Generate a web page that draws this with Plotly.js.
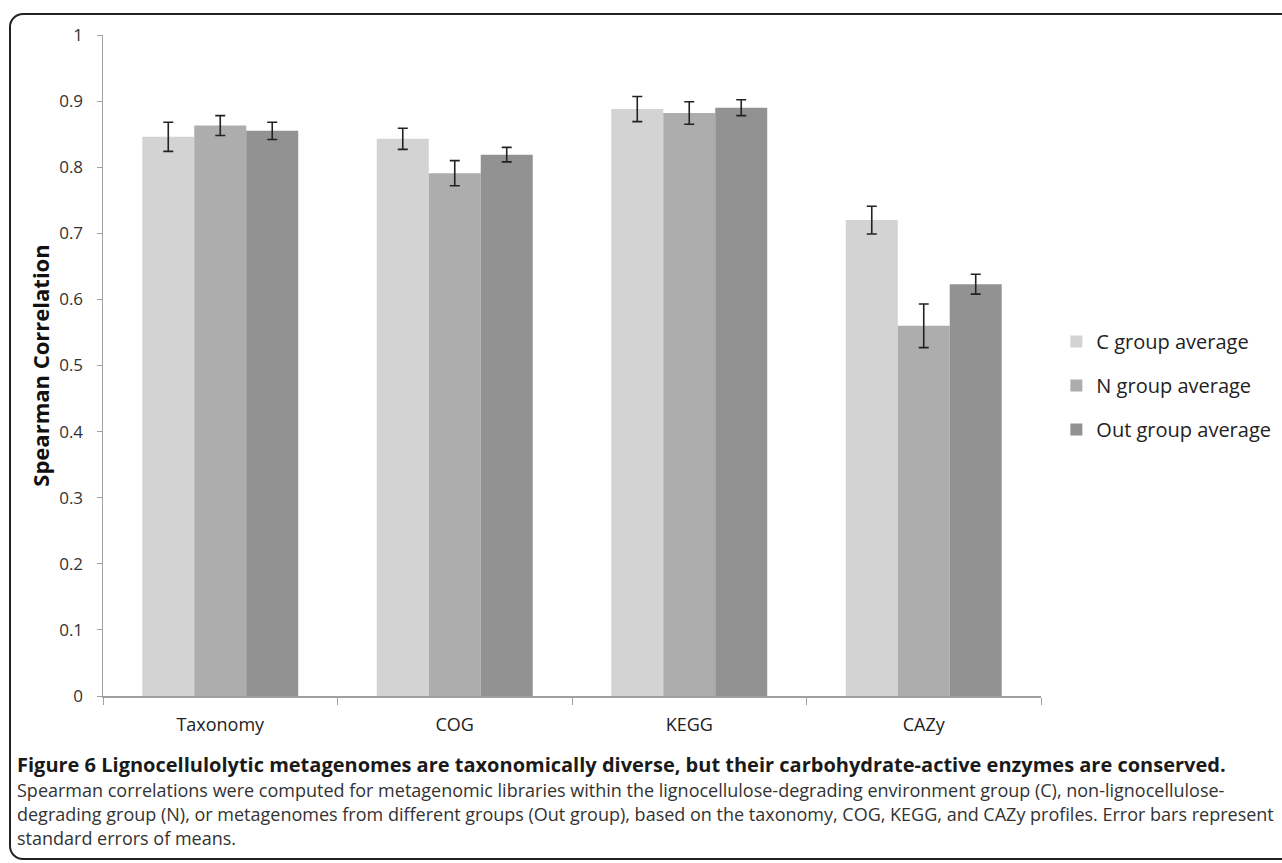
<!DOCTYPE html>
<html>
<head>
<meta charset="utf-8">
<script src="https://cdn.plot.ly/plotly-3.0.1.min.js"></script>
<style>
  html, body { margin: 0; padding: 0; background: #fff; }
  #chart { width: 1282px; height: 863px; }
  #frame { position: absolute; left: 9px; top: 13px; width: 1290px; height: 843px;
           border: 2px solid #222; border-radius: 14px; pointer-events: none; }
</style>
</head>
<body>
<div id="chart"></div>
<div id="frame"></div>
<script>
const categories = ["Taxonomy", "COG", "KEGG", "CAZy"];
const seriesNames = ["C group average", "N group average", "Out group average"];
const cValues = [0.846, 0.843, 0.888, 0.720];
const cErrors = [0.022, 0.016, 0.019, 0.021];
const nValues = [0.863, 0.791, 0.882, 0.560];
const nErrors = [0.015, 0.019, 0.017, 0.033];
const outValues = [0.855, 0.819, 0.890, 0.623];
const outErrors = [0.013, 0.011, 0.012, 0.015];
const barColors = ["#d3d3d3", "#adadad", "#929292"];

const values = [cValues, nValues, outValues];
const errors = [cErrors, nErrors, outErrors];

const traces = seriesNames.map((name, i) => ({
  type: "bar",
  name: name,
  x: categories,
  y: values[i],
  legendgroup: "g" + i,
  marker: { color: barColors[i], line: { width: 0 } },
  error_y: { type: "data", array: errors[i], visible: true, color: "#222", thickness: 1.6, width: 5 }
}));

const font = "'Open Sans', 'DejaVu Sans', sans-serif";
const capFont = "'Open Sans', 'DejaVu Sans', sans-serif";

function capLine(text, ypx, bold, size, color) {
  return {
    xref: "paper", yref: "paper",
    x: (15 - 103) / 938, y: (696 - ypx) / 661,
    xanchor: "left", yanchor: "middle",
    showarrow: false, align: "left",
    text: bold ? "<b>" + text + "</b>" : text,
    font: { family: capFont, size: size, color: color }
  };
}

const layout = {
  width: 1282, height: 863,
  margin: { l: 103, r: 241, t: 35, b: 167, autoexpand: false },
  paper_bgcolor: "#fff", plot_bgcolor: "#fff",
  barmode: "group", bargap: 0.335, bargroupgap: 0,
  showlegend: true,
  legend: {
    xref: "container", yref: "container",
    x: 0.824, y: 0.627, xanchor: "left", yanchor: "top",
    font: { family: font, size: 20, color: "#222" },
    traceorder: "grouped", tracegroupgap: 15,
    itemwidth: 30
  },
  xaxis: {
    type: "category",
    showline: true, linecolor: "#a0a0a0", linewidth: 1.5,
    ticks: "outside", tickson: "boundaries", ticklen: 7, tickcolor: "#a0a0a0",
    ticklabelstandoff: 12,
    tickfont: { family: font, size: 18, color: "#222" },
    showgrid: false, zeroline: false
  },
  yaxis: {
    range: [0, 1], dtick: 0.1, tick0: 0,
    showline: true, linecolor: "#a0a0a0", linewidth: 1.5,
    ticks: "outside", ticklen: 5, tickcolor: "#a0a0a0",
    ticklabelstandoff: 10,
    tickfont: { family: font, size: 17, color: "#333" },
    showgrid: false, zeroline: false,
    title: { text: "<b>Spearman Correlation</b>", font: { family: font, size: 22, color: "#111" }, standoff: 3 }
  },
  annotations: [
    capLine("Figure 6 Lignocellulolytic metagenomes are taxonomically diverse, but their carbohydrate-active enzymes are conserved.", 765, true, 20, "#1a1a1a"),
    capLine("Spearman correlations were computed for metagenomic libraries within the lignocellulose-degrading environment group (C), non-lignocellulose-", 790, false, 18, "#333"),
    capLine("degrading group (N), or metagenomes from different groups (Out group), based on the taxonomy, COG, KEGG, and CAZy profiles. Error bars represent", 814, false, 18, "#333"),
    capLine("standard errors of means.", 838, false, 18, "#333")
  ]
};

Plotly.newPlot("chart", traces, layout, { displayModeBar: false, staticPlot: true });
</script>
</body>
</html>
